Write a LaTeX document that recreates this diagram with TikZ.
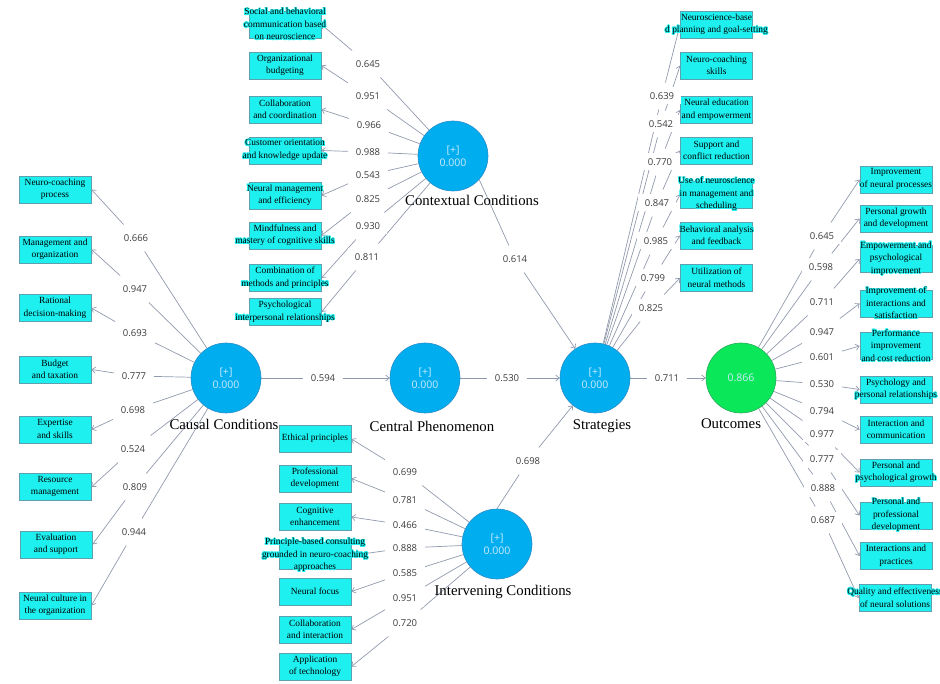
\documentclass[tikz,border=0pt]{standalone}
\usepackage{fontspec}
\setmainfont{Liberation Serif}
\newfontfamily\lblfont{Open Sans}
\usepackage{contour}
\contourlength{0.8pt}
\usetikzlibrary{arrows.meta}
\definecolor{boxc}{RGB}{30,240,240}
\definecolor{boxd}{RGB}{95,160,175}
\definecolor{lvblue}{RGB}{0,174,239}
\definecolor{lvedge}{RGB}{40,140,200}
\definecolor{lvtext}{RGB}{205,235,252}
\definecolor{ougreen}{RGB}{10,232,90}
\definecolor{ouedge}{RGB}{40,170,90}
\definecolor{lnc}{RGB}{145,153,172}
\definecolor{labc}{RGB}{60,60,60}
\pgfdeclarelayer{bg}
\pgfsetlayers{bg,main}
\newcommand\cl[1]{\contour{boxc}{#1}}
\newcommand\bx[3]{\node[box] (#1) at (#2) {}; \node[btxt] (#1t) at (#1.center) {#3};}
\newcommand\lb[3]{\node[lab] (#1) at (#2) {#3};}
\newcommand\cn[3]{\draw[ln] (#1) -- (#2); \draw[ln,arr] (#2) -- (#3);}
\tikzset{
  box/.style={draw=boxd, fill=boxc, line width=0.8pt, minimum width=72pt, minimum height=27pt, inner sep=0pt},
  btxt/.style={inner sep=0pt, align=center, font=\fontsize{9.4}{12.5}\selectfont},
  lv/.style={circle, fill=lvblue, draw=lvedge, line width=0.6pt, minimum size=70pt, inner sep=0pt, text=lvtext, align=center, font=\lblfont\fontsize{10.5}{13}\selectfont},
  cname/.style={inner sep=0pt, font=\fontsize{14.8}{16}\selectfont},
  lab/.style={fill=white, inner sep=1pt, minimum width=38pt, minimum height=17pt, outer xsep=1pt, outer ysep=5pt, text=labc, font=\lblfont\fontsize{9.5}{11}\selectfont},
  ln/.style={draw=lnc, line width=0.7pt},
  arr/.style={-{Straight Barb[length=3.5pt,width=6pt]}}
}
\begin{document}
\begin{tikzpicture}[x=1pt,y=-1pt]
\useasboundingbox (0,0) rectangle (940,684);
% latent variables
\node[lv] (CC) at (226,378) {[+]\\0.000};
\node[lv] (CP) at (425,378) {[+]\\0.000};
\node[lv] (ST) at (595,378) {[+]\\0.000};
\node[lv,fill=ougreen,draw=ouedge] (OU) at (741,378) {0.866};
\node[lv] (CO) at (453,156) {[+]\\0.000};
\node[lv] (IN) at (497,544) {[+]\\0.000};
\node[cname] (CCn) at (224,424) {Causal Conditions};
\node[cname] (COn) at (472,200) {Contextual Conditions};
\node[cname] (CPn) at (432,426) {Central Phenomenon};
\node[cname] (STn) at (602,426) {Strategies};
\node[cname] (OUn) at (731,424) {Outcomes};
\node[cname] (INn) at (503,592) {Intervening Conditions};
% structural labels
\lb{s1}{323,378}{0.594}
\lb{s2}{507,378}{0.530}
\lb{s3}{667,378}{0.711}
\lb{s4}{515,259}{0.614}
\lb{s5}{528,461}{0.698}
% causal indicators
\bx{L1}{55,189.5}{\cl{Neuro-coaching}\\\cl{process}}
\bx{L2}{55,249.5}{\cl{Management and}\\\cl{organization}}
\bx{L3}{55,308}{\cl{Rational}\\\cl{decision-making}}
\bx{L4}{55,369.5}{\cl{Budget}\\\cl{and taxation}}
\bx{L5}{55,429.5}{\cl{Expertise}\\\cl{and skills}}
\bx{L6}{55,487}{\cl{Resource}\\\cl{management}}
\bx{L7}{56,544.5}{\cl{Evaluation}\\\cl{and support}}
\bx{L8}{55,605.5}{\cl{Neural culture in}\\\cl{the organization}}
\lb{a1}{136,238}{0.666}
\lb{a2}{135,289}{0.947}
\lb{a3}{135,333}{0.693}
\lb{a4}{134,376}{0.777}
\lb{a5}{133,410}{0.698}
\lb{a6}{133,449}{0.524}
\lb{a7}{135,487}{0.809}
\lb{a8}{134,532}{0.944}
% contextual indicators
\bx{C1}{285,24.5}{\cl{Social and behavioral}\\\cl{communication based}\\\cl{on neuroscience}}
\bx{C2}{285,65.5}{\cl{Organizational}\\\cl{budgeting}}
\bx{C3}{285,109.5}{\cl{Collaboration}\\\cl{and coordination}}
\bx{C4}{285,150.5}{\cl{Customer orientation}\\\cl{and knowledge update}}
\bx{C5}{285,195.5}{\cl{Neural management}\\\cl{and efficiency}}
\bx{C6}{285,235.5}{\cl{Mindfulness and}\\\cl{mastery of cognitive skills}}
\bx{C7}{285,278}{\cl{Combination of}\\\cl{methods and principles}}
\bx{C8}{285,312}{\cl{Psychological}\\\cl{interpersonal relationships}}
\lb{c1}{368,64}{0.645}
\lb{c2}{368,96}{0.951}
\lb{c3}{369,125}{0.966}
\lb{c4}{368,152}{0.988}
\lb{c5}{368,175}{0.543}
\lb{c6}{368,199}{0.825}
\lb{c7}{368,226}{0.930}
\lb{c8}{367,257}{0.811}
% intervening indicators
\bx{I1}{315,439}{\cl{Ethical principles}}
\bx{I2}{315,478.5}{\cl{Professional}\\\cl{development}}
\bx{I3}{315,517}{\cl{Cognitive}\\\cl{enhancement}}
\bx{I4}{315,555.5}{\cl{Principle-based consulting}\\\cl{grounded in neuro-coaching}\\\cl{approaches}}
\bx{I5}{315,591.5}{\cl{Neural focus}}
\bx{I6}{315,629.5}{\cl{Collaboration}\\\cl{and interaction}}
\bx{I7}{315,666.5}{\cl{Application}\\\cl{of technology}}
\lb{i1}{405,472}{0.699}
\lb{i2}{405,500}{0.781}
\lb{i3}{405,525}{0.466}
\lb{i4}{405,548}{0.888}
\lb{i5}{405,573}{0.585}
\lb{i6}{405,598}{0.951}
\lb{i7}{405,623}{0.720}
% strategy indicators
\bx{S1}{716.5,24.5}{\cl{Neuroscience-base}\\\cl{d planning and goal-setting}}
\bx{S2}{716.5,65.5}{\cl{Neuro-coaching}\\\cl{skills}}
\bx{S3}{716.5,110}{\cl{Neural education}\\\cl{and empowerment}}
\bx{S4}{716.5,150.5}{\cl{Support and}\\\cl{conflict reduction}}
\bx{S5}{716.5,194.5}{\cl{Use of neuroscience}\\\cl{in management and}\\\cl{scheduling}}
\bx{S6}{716.5,235.5}{\cl{Behavioral analysis}\\\cl{and feedback}}
\bx{S7}{716.5,278}{\cl{Utilization of}\\\cl{neural methods}}
\lb{t1}{662,96}{0.639}
\lb{t2}{661,124}{0.542}
\lb{t3}{660,162}{0.770}
\lb{t4}{657,203}{0.847}
\lb{t5}{656,241}{0.985}
\lb{t6}{653,278}{0.799}
\lb{t7}{651,308}{0.825}
% outcome indicators
\bx{O1}{896,179.5}{\cl{Improvement}\\\cl{of neural processes}}
\bx{O2}{896,218.5}{\cl{Personal growth}\\\cl{and development}}
\bx{O3}{896,259}{\cl{Empowerment and}\\\cl{psychological}\\\cl{improvement}}
\bx{O4}{896,303.5}{\cl{Improvement of}\\\cl{interactions and}\\\cl{satisfaction}}
\bx{O5}{896,346}{\cl{Performance}\\\cl{improvement}\\\cl{and cost reduction}}
\bx{O6}{896,389.5}{\cl{Psychology and}\\\cl{personal relationships}}
\bx{O7}{896,429.5}{\cl{Interaction and}\\\cl{communication}}
\bx{O8}{896,472.5}{\cl{Personal and}\\\cl{psychological growth}}
\bx{O9}{896,515.5}{\cl{Personal and}\\\cl{professional}\\\cl{development}}
\bx{O10}{896,556}{\cl{Interactions and}\\\cl{practices}}
\bx{O11}{895,598}{\cl{Quality and effectiveness}\\\cl{of neural solutions}}
\lb{o1}{822,236}{0.645}
\lb{o2}{821,267}{0.598}
\lb{o3}{822,302}{0.711}
\lb{o4}{822,332}{0.947}
\lb{o5}{822,357}{0.601}
\lb{o6}{822,384}{0.530}
\lb{o7}{822,411}{0.794}
\lb{o8}{822,434}{0.977}
\lb{o9}{822,459}{0.777}
\lb{o10}{823,488}{0.888}
\lb{o11}{823,520}{0.687}
% connectors
\begin{pgfonlayer}{bg}
\cn{CC}{s1}{CP}
\cn{CP}{s2}{ST}
\cn{ST}{s3}{OU}
\cn{CO.-42}{s4}{ST}
\cn{IN.north}{s5}{ST}
\cn{CC}{a1}{L1.east}
\cn{CC}{a2}{L2.east}
\cn{CC}{a3}{L3.east}
\cn{CC}{a4}{L4.east}
\cn{CC}{a5}{L5.east}
\cn{CC}{a6}{L6.east}
\cn{CC}{a7}{L7.east}
\cn{CC}{a8}{L8.east}
\cn{CO}{c1}{C1.east}
\cn{CO}{c2}{C2.east}
\cn{CO}{c3}{C3.east}
\cn{CO}{c4}{C4.east}
\cn{CO}{c5}{C5.east}
\cn{CO}{c6}{C6.east}
\cn{CO}{c7}{C7.east}
\cn{CO}{c8}{C8.east}
\cn{IN}{i1}{I1.east}
\cn{IN}{i2}{I2.east}
\cn{IN}{i3}{I3.east}
\cn{IN}{i4}{I4.east}
\cn{IN}{i5}{I5.east}
\cn{IN}{i6}{I6.east}
\cn{IN}{i7}{I7.east}
\cn{ST}{t1}{S1.west}
\cn{ST}{t2}{S2.west}
\cn{ST}{t3}{S3.west}
\cn{ST}{t4}{S4.west}
\cn{ST}{t5}{S5.west}
\cn{ST}{t6}{S6.west}
\cn{ST}{t7}{S7.west}
\cn{OU}{o1}{O1.west}
\cn{OU}{o2}{O2.west}
\cn{OU}{o3}{O3.west}
\cn{OU}{o4}{O4.west}
\cn{OU}{o5}{O5.west}
\cn{OU}{o6}{O6.west}
\cn{OU}{o7}{O7.west}
\cn{OU}{o8}{O8.west}
\cn{OU}{o9}{O9.west}
\cn{OU}{o10}{O10.west}
\cn{OU}{o11}{O11.west}
\end{pgfonlayer}
\end{tikzpicture}
\end{document}
